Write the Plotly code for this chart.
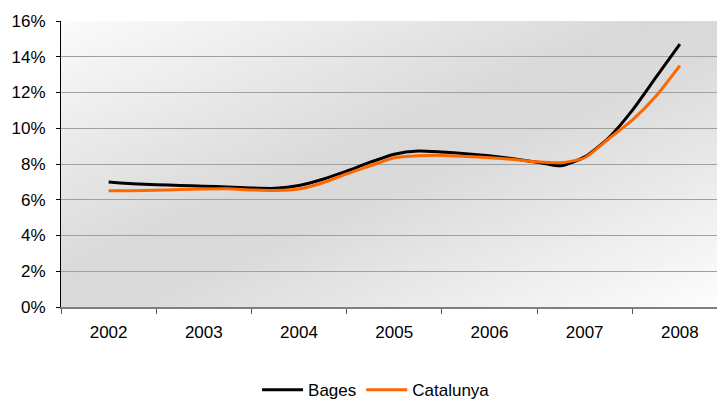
import plotly.graph_objects as go

# quarterly observations, 2002 to 2008
periods = [2002 + q / 4 for q in range(25)]
bages = [7.0, 6.9, 6.84, 6.8, 6.76, 6.72, 6.66, 6.64, 6.8, 7.15, 7.6, 8.1, 8.55,
         8.73, 8.67, 8.58, 8.46, 8.3, 8.1, 7.9, 8.4, 9.45, 11.0, 12.86, 14.7]
catalunya = [6.5, 6.51, 6.53, 6.57, 6.6, 6.61, 6.55, 6.52, 6.6, 6.95, 7.45, 7.9, 8.35,
             8.46, 8.48, 8.42, 8.35, 8.25, 8.12, 8.07, 8.35, 9.4, 10.45, 11.8, 13.5]
years = [2002, 2003, 2004, 2005, 2006, 2007, 2008]
y_ticks = [0, 2, 4, 6, 8, 10, 12, 14, 16]

FONT = "Liberation Sans, Arial, sans-serif"

# diagonal grey gradient for the plot background
bg_svg = (
    "data:image/svg+xml;utf8,"
    "<svg xmlns='http://www.w3.org/2000/svg' width='656' height='286' "
    "viewBox='0 0 656 286' preserveAspectRatio='none'>"
    "<defs><linearGradient id='g' x1='0' y1='0' x2='1' y2='1'>"
    "<stop offset='0' stop-color='%23fbfbfb'/>"
    "<stop offset='0.45' stop-color='%23d9d9d9'/>"
    "<stop offset='0.55' stop-color='%23dadada'/>"
    "<stop offset='1' stop-color='%23fdfdfd'/>"
    "</linearGradient></defs>"
    "<rect width='656' height='286' fill='url(%23g)'/></svg>"
)

fig = go.Figure()
fig.add_trace(go.Scatter(x=periods, y=bages, name="Bages", mode="lines",
                         line=dict(color="#000000", width=3, shape="spline", smoothing=0.6)))
fig.add_trace(go.Scatter(x=periods, y=catalunya, name="Catalunya", mode="lines",
                         line=dict(color="#ff6600", width=3, shape="spline", smoothing=0.6)))

fig.add_layout_image(dict(source=bg_svg, xref="paper", yref="paper", x=0, y=1,
                          sizex=1, sizey=1, xanchor="left", yanchor="top",
                          sizing="stretch", layer="below"))

fig.update_xaxes(
    range=[2001.5, 2008.39], tickvals=years, ticktext=[str(y) for y in years],
    ticks="", showgrid=False, zeroline=False, showline=True, automargin=False,
    linecolor="#7f7f7f", linewidth=2, ticklabelstandoff=9,
    minor=dict(tick0=2001.5, dtick=1, ticks="outside", ticklen=5,
               tickcolor="#555555", tickwidth=1, showgrid=False),
    tickfont=dict(family=FONT, size=17, color="#000000"),
)
fig.update_yaxes(
    range=[0, 16], tickvals=y_ticks, ticktext=[f"{v}%" for v in y_ticks],
    ticks="outside", automargin=False,
    ticklen=4, tickcolor="#000000", showline=True, linecolor="#000000",
    linewidth=1, gridcolor="#a0a0a0", gridwidth=1, zeroline=False,
    ticklabelstandoff=7,
    tickfont=dict(family=FONT, size=17, color="#000000"),
)
fig.update_layout(
    width=719, height=403,
    margin=dict(l=61, r=2, t=21, b=96),
    paper_bgcolor="white", plot_bgcolor="rgba(0,0,0,0)",
    showlegend=True,
    legend=dict(orientation="h", xref="container", yref="container",
                x=0.523, xanchor="center", y=0.032, yanchor="middle", itemwidth=41,
                font=dict(family=FONT, size=17, color="#000000")),
)

# drop the default page margin so the figure sits at the window's corner
fig.write_html("out.html", config={"displayModeBar": False},
               post_script="document.body.style.margin='0';")
